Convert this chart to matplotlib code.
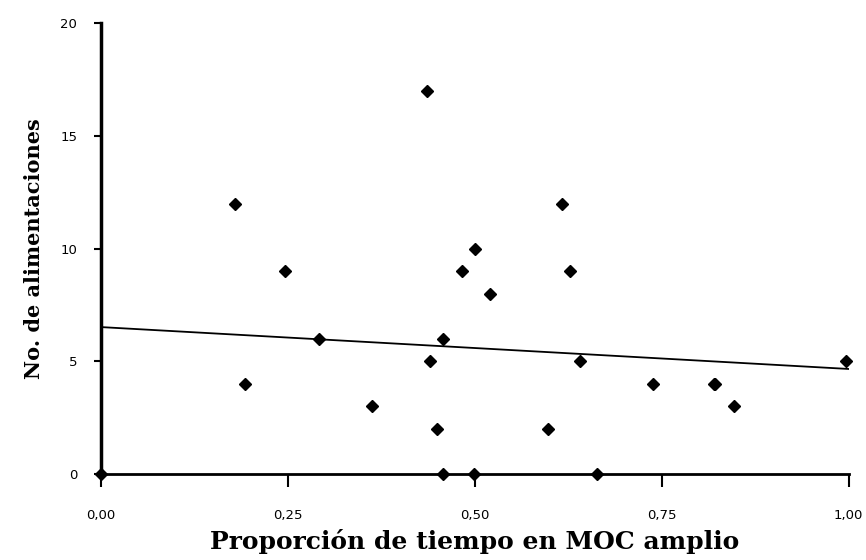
import numpy as np
import matplotlib
matplotlib.use("Agg")
import matplotlib.pyplot as plt

# proporcion de tiempo en MOC amplio vs numero de alimentaciones
proporcion = [0.00, 0.179, 0.193, 0.246, 0.291, 0.362, 0.436, 0.440, 0.449,
              0.457, 0.457, 0.483, 0.499, 0.500, 0.520, 0.598, 0.616, 0.627,
              0.640, 0.664, 0.738, 0.820, 0.821, 0.846, 0.997]
alimentaciones = [0, 12, 4, 9, 6, 3, 17, 5, 2,
                  0, 6, 9, 0, 10, 8, 2, 12, 9,
                  5, 0, 4, 4, 4, 3, 5]

x_ticks = [0.0, 0.25, 0.5, 0.75, 1.0]
x_ticklabels = ["0,00", "0,25", "0,50", "0,75", "1,00"]
y_ticks = [0, 5, 10, 15, 20]

x = np.array(proporcion)
y = np.array(alimentaciones)
slope, intercept = np.polyfit(x, y, 1)

fig = plt.figure(figsize=(8.66, 5.6), dpi=100)
ax = fig.add_axes([0.1166, 0.1536, 0.8634, 0.805])

# linea de tendencia
xl = np.array([0.0, 1.0])
ax.plot(xl, intercept + slope * xl, color="black", lw=1.3, zorder=2)

ax.plot(x, y, linestyle="none", marker="D", markersize=6,
        color="black", zorder=3, clip_on=False)

ax.set_xlim(0, 1)
ax.set_ylim(0, 20)
ax.set_xticks(x_ticks)
ax.set_xticklabels(x_ticklabels)
ax.set_yticks(y_ticks)

for s in ["top", "right"]:
    ax.spines[s].set_visible(False)
ax.spines["left"].set_linewidth(2.5)
ax.spines["bottom"].set_linewidth(2)

ax.tick_params(axis="x", direction="out", length=9, width=1.5, pad=16,
               labelsize=9.5)
ax.tick_params(axis="y", direction="out", length=5, width=1.5, pad=12,
               labelsize=9.5)

ax.set_xlabel("Proporción de tiempo en MOC amplio", fontsize=18,
              fontweight="bold", family="DejaVu Serif", labelpad=5)
ax.set_ylabel("No. de alimentaciones", fontsize=15,
              fontweight="bold", family="DejaVu Serif", labelpad=12)

fig.savefig("out.png", dpi=100)
